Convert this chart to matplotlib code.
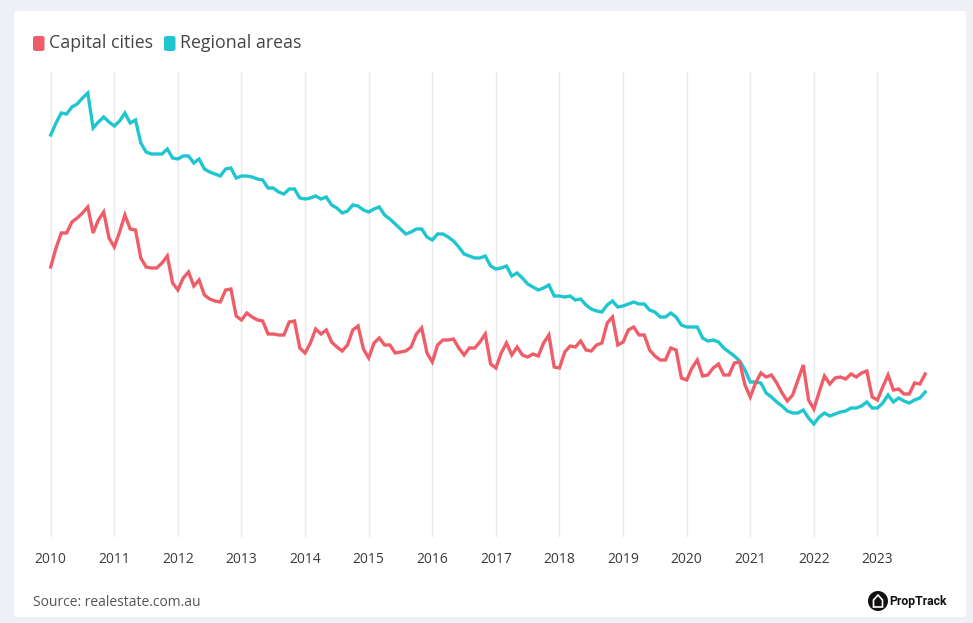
import numpy as np
import matplotlib.pyplot as plt
from matplotlib.patches import FancyBboxPatch, Ellipse, Polygon

# monthly series, Jan 2010 - Oct 2023 (relative index, no y scale shown)
capital = [
    268, 287, 302, 302, 313, 317, 322, 328, 302, 315, 323, 297,
    288, 303, 320, 306, 305, 277, 268, 267, 267, 272, 279, 252,
    245, 257, 263, 249, 255, 240, 236, 234, 233, 245, 246, 219,
    215, 222, 218, 215, 214, 201, 201, 200, 200, 213, 214, 187,
    182, 192, 206, 201, 205, 193, 188, 184, 190, 205, 209, 186,
    177, 192, 197, 190, 190, 182, 183, 184, 188, 201, 207, 182,
    173, 190, 195, 195, 196, 187, 180, 187, 187, 193, 201, 171,
    167, 182, 192, 180, 188, 180, 178, 181, 179, 192, 200, 168,
    167, 183, 189, 188, 194, 185, 184, 190, 192, 212, 218, 190,
    193, 205, 208, 200, 200, 185, 179, 175, 175, 187, 185, 157,
    155, 167, 175, 159, 160, 167, 171, 160, 160, 172, 173, 150,
    138, 152, 162, 158, 160, 152, 142, 134, 140, 155, 170, 135,
    126, 143, 159, 151, 157, 158, 156, 161, 158, 162, 164, 138,
    135, 148, 160, 145, 146, 141, 141, 152, 151, 161,
]
regional = [
    400, 412, 422, 421, 428, 431, 437, 442, 407, 413, 418, 413,
    409, 414, 422, 412, 415, 392, 383, 381, 381, 381, 386, 377,
    376, 379, 379, 372, 376, 366, 363, 361, 359, 366, 367, 357,
    359, 359, 358, 356, 355, 347, 347, 343, 341, 346, 346, 337,
    336, 337, 339, 336, 338, 330, 327, 322, 324, 330, 329, 325,
    323, 326, 328, 320, 316, 311, 306, 301, 303, 306, 306, 298,
    295, 301, 301, 298, 294, 288, 281, 279, 277, 277, 279, 269,
    266, 267, 269, 259, 262, 257, 251, 248, 245, 247, 250, 239,
    239, 238, 239, 235, 236, 230, 226, 224, 223, 230, 234, 228,
    229, 231, 233, 231, 231, 225, 223, 218, 218, 222, 218, 210,
    208, 208, 208, 197, 194, 195, 193, 187, 183, 179, 174, 165,
    153, 153, 152, 142, 138, 133, 129, 124, 122, 122, 125, 117,
    111, 118, 122, 119, 121, 123, 124, 127, 127, 129, 133, 127,
    127, 132, 140, 133, 137, 134, 132, 135, 137, 143,
]
years = [str(y) for y in range(2010, 2024)]

W, H = 973, 623
RED = "#ef5d69"
CYAN = "#20c6cf"

def fx(x):
    return x / W

def fy(y):
    return 1 - y / H

fig = plt.figure(figsize=(W / 100, H / 100), dpi=100, facecolor="#eef0f5")
fig.patches.append(FancyBboxPatch((fx(14), fy(617)), fx(952), 606 / H,
                                  boxstyle="round,pad=0,rounding_size=0.004",
                                  transform=fig.transFigure, facecolor="white",
                                  edgecolor="none", zorder=-5))

ax = fig.add_axes([fx(40), fy(537), fx(900), 465 / H], zorder=2)
ax.set_facecolor("none")
months = np.arange(len(capital))
ax.plot(months, regional, color=CYAN, lw=2.4, solid_joinstyle="miter", zorder=3)
ax.plot(months, capital, color=RED, lw=2.4, solid_joinstyle="miter", zorder=4)
ax.set_xlim(-2.02, 167.8)
ax.set_ylim(-2, 463)
ax.set_xticks(np.arange(len(years)) * 12)
ax.set_xticklabels(years, fontsize=10, color="#3a3a3a", family="Open Sans")
ax.set_yticks([])
ax.tick_params(axis="x", length=0, pad=11)
ax.grid(axis="x", color="#e9e9ec", lw=1)
for s in ax.spines.values():
    s.set_visible(False)

# legend
for x0, col, lab in [(33, RED, "Capital cities"), (164, CYAN, "Regional areas")]:
    fig.patches.append(FancyBboxPatch((fx(x0), fy(51)), fx(11.5), 15 / H,
                                      boxstyle="round,pad=0,rounding_size=0.003",
                                      transform=fig.transFigure, facecolor=col,
                                      edgecolor="none"))
    fig.text(fx(x0 + 16), fy(43), lab, fontsize=12.8, color="#444444",
             family="Open Sans", va="center", ha="left")

fig.text(fx(33), fy(602), "Source: realestate.com.au", fontsize=10,
         color="#555555", family="Open Sans", va="center", ha="left")

# PropTrack mark
fig.patches.append(Ellipse((fx(878), fy(601)), 20 / W, 20 / H, transform=fig.transFigure,
                           facecolor="#111111", edgecolor="none"))
fig.patches.append(Polygon([(fx(873.5), fy(607)), (fx(873.5), fy(600)), (fx(878), fy(595)),
                            (fx(882.5), fy(600)), (fx(882.5), fy(607))], closed=True,
                           transform=fig.transFigure, facecolor="none",
                           edgecolor="white", lw=1.2))
fig.text(fx(889), fy(601), "PropTrack", fontsize=8.8, fontweight="bold",
         color="#111111", family="Roboto", va="center", ha="left")

fig.savefig("out.png", dpi=100, facecolor=fig.get_facecolor())
